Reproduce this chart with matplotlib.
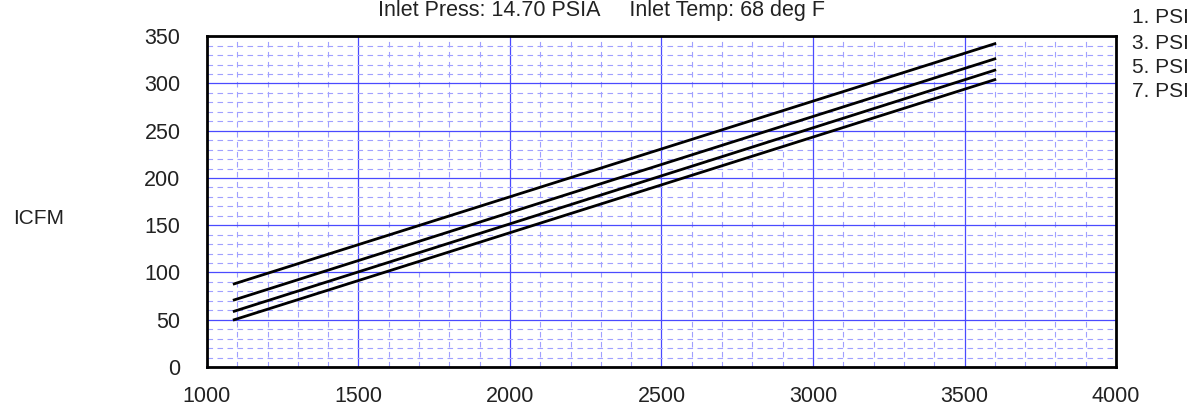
import matplotlib.pyplot as plt
from matplotlib.ticker import MultipleLocator

# flow at the two ends of each pressure line
speed = [1090, 3600]
psi_labels = ["1. PSI", "3. PSI", "5. PSI", "7. PSI"]
icfm_1 = [88, 342]
icfm_3 = [71, 326]
icfm_5 = [59, 314]
icfm_7 = [50, 304]
x_ticks = [1000, 1500, 2000, 2500, 3000, 3500, 4000]
y_ticks = [0, 50, 100, 150, 200, 250, 300, 350]

plt.rcParams['font.family'] = ['Liberation Sans', 'DejaVu Sans']

fig = plt.figure(figsize=(11.99, 4.11), dpi=100)
ax = fig.add_axes([0.1726, 0.107, 0.7582, 0.805])

# grid: solid blue for majors, dashed light blue for minors
ax.xaxis.set_minor_locator(MultipleLocator(100))
ax.yaxis.set_minor_locator(MultipleLocator(10))
ax.grid(which='major', color='#4a4aff', linewidth=0.9, linestyle='-')
ax.grid(which='minor', color='#a0a0ff', linewidth=0.8, linestyle=(0, (5, 4)))
ax.set_axisbelow(True)

for ys in [icfm_1, icfm_3, icfm_5, icfm_7]:
    ax.plot(speed, ys, color='black', linewidth=2)

ax.set_xlim(1000, 4000)
ax.set_ylim(0, 350)
ax.set_xticks(x_ticks)
ax.set_yticks(y_ticks)
ax.tick_params(which='both', length=0, labelsize=15.5, colors='#222222')
ax.tick_params(axis='y', pad=19)
ax.tick_params(axis='x', pad=14)

for s in ax.spines.values():
    s.set_linewidth(2)
    s.set_color('black')

fig.text(0.011, 0.468, "ICFM", fontsize=15, color='#222222', va='center')
fig.text(0.5015, 0.975, "Inlet Press: 14.70 PSIA     Inlet Temp: 68 deg F",
         fontsize=15.5, color='#222222', ha='center', va='center')

# pressure labels on the right side
label_y = [0.958, 0.893, 0.835, 0.777]
for lab, yy in zip(psi_labels, label_y):
    fig.text(0.944, yy, lab, fontsize=15, color='#222222', va='center')

fig.savefig("out.png", dpi=100)
